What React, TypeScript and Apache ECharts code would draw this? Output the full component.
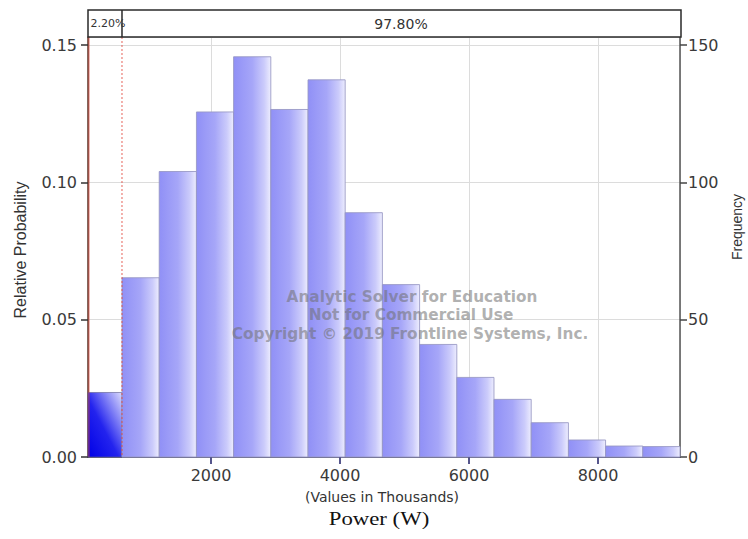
import React, { useEffect, useRef } from "react";
import * as echarts from "echarts";

// ---- data ----
const binEdges = [93, 620, 1197, 1774, 2350, 2927, 3504, 4080, 4657, 5234, 5811, 6387, 6964, 7541, 8117, 8694, 9271];
const relProb = [0.0235, 0.0653, 0.104, 0.1257, 0.1458, 0.1266, 0.1374, 0.089, 0.0628, 0.041, 0.029, 0.021, 0.0125, 0.0062, 0.004, 0.0038];
const lowerCutoff = 620;
const regionLabels = ["2.20%", "97.80%"];
const yLeftMax = 0.153;
const yRightMax = 153;
const watermarkLines = [
  "Analytic Solver for Education",
  "Not for Commercial Use",
  "Copyright © 2019 Frontline Systems, Inc.",
];
const axisTitles = {
  left: "Relative Probability",
  right: "Frequency",
  xSub: "(Values in Thousands)",
  x: "Power (W)",
};

const SANS = "DejaVu Sans";

export default function App() {
  const ref = useRef<HTMLDivElement>(null);

  useEffect(() => {
    if (!ref.current) return;
    const chart = echarts.init(ref.current, null, { renderer: "svg" });

    const histData = relProb.map((p, i) => [binEdges[i], binEdges[i + 1], p, i < 1 ? 1 : 0]);

    const lightFill = new echarts.graphic.LinearGradient(0, 0, 1, 0, [
      { offset: 0, color: "#9090f6" },
      { offset: 0.5, color: "#a6a6f8" },
      { offset: 0.82, color: "#cbcbfb" },
      { offset: 1, color: "#ededfe" },
    ]);
    const darkFill = new echarts.graphic.LinearGradient(0, 1, 1, 0, [
      { offset: 0, color: "#0000e6" },
      { offset: 0.45, color: "#2323ee" },
      { offset: 1, color: "#dcdcfd" },
    ]);

    const option: any = {
      animation: false,
      backgroundColor: "#ffffff",
      grid: { left: 88, right: 68, top: 37, bottom: 82, containLabel: false },
      xAxis: {
        type: "value",
        min: binEdges[0],
        max: binEdges[binEdges.length - 1],
        splitNumber: 5,
        axisLine: { show: true, lineStyle: { color: "#3a3a58", width: 1.5 } },
        axisTick: { show: true, length: 7, lineStyle: { color: "#1e1e66", width: 1.5 } },
        axisLabel: {
          showMinLabel: false,
          showMaxLabel: false,
          formatter: (v: number) => String(Math.round(v)),
          color: "#3a3a3a",
          fontSize: 16,
          fontFamily: SANS,
          margin: 10,
        },
        splitLine: { show: true, lineStyle: { color: "#dcdcdc", width: 1 } },
      },
      yAxis: [
        {
          type: "value",
          position: "left",
          min: 0,
          max: yLeftMax,
          interval: 0.05,
          axisLine: { show: true, lineStyle: { color: "#5b3226", width: 1.5 } },
          axisTick: { show: true, length: 7, lineStyle: { color: "#333", width: 1.5 } },
          axisLabel: {
            showMaxLabel: false,
            formatter: (v: number) => v.toFixed(2),
            color: "#3a3a3a",
            fontSize: 16,
            fontFamily: SANS,
            margin: 11,
          },
          splitLine: { show: true, lineStyle: { color: "#dcdcdc", width: 1 } },
        },
        {
          type: "value",
          position: "right",
          min: 0,
          max: yRightMax,
          interval: 50,
          axisLine: { show: true, lineStyle: { color: "#555", width: 1.5 } },
          axisTick: { show: true, length: 7, lineStyle: { color: "#444", width: 1.5 } },
          axisLabel: {
            showMaxLabel: false,
            color: "#3a3a3a",
            fontSize: 16,
            fontFamily: SANS,
            margin: 8,
          },
          splitLine: { show: false },
        },
      ],
      series: [
        {
          type: "custom",
          xAxisIndex: 0,
          yAxisIndex: 0,
          encode: { x: [0, 1], y: 2 },
          data: histData,
          z: 2,
          renderItem: (params: any, api: any) => {
            const tl = api.coord([api.value(0), api.value(2)]);
            const br = api.coord([api.value(1), 0]);
            const dark = api.value(3) === 1;
            return {
              type: "rect",
              shape: { x: tl[0], y: tl[1], width: br[0] - tl[0], height: br[1] - tl[1] },
              style: {
                fill: dark ? darkFill : lightFill,
                stroke: dark ? "rgba(90,90,140,0.6)" : "rgba(150,150,195,0.85)",
                lineWidth: 1,
              },
            };
          },
        },
      ],
    };

    chart.setOption(option);

    const px = (v: number) => chart.convertToPixel({ xAxisIndex: 0 }, v) as number;
    const py = (v: number) => chart.convertToPixel({ yAxisIndex: 0 }, v) as number;
    const xL = px(binEdges[0]);
    const xR = px(binEdges[binEdges.length - 1]);
    const xC = px(lowerCutoff);
    const yT = py(yLeftMax);
    const yB = py(0);
    const bandTop = 10;

    const wmStyle = (text: string) => ({
      text,
      fill: "rgba(110,110,110,0.55)",
      fontSize: 15,
      fontFamily: SANS,
      fontWeight: "bold",
      align: "center",
      verticalAlign: "middle",
    });

    chart.setOption({
      graphic: [
        // header band
        {
          type: "rect",
          shape: { x: xL, y: bandTop, width: xR - xL + 1, height: yT - bandTop },
          style: { fill: "#fff", stroke: "#2a2a2a", lineWidth: 1.5 },
          z: 10,
        },
        {
          type: "line",
          shape: { x1: xC, y1: bandTop, x2: xC, y2: yT },
          style: { stroke: "#2a2a2a", lineWidth: 1.5 },
          z: 11,
        },
        {
          type: "text",
          x: (xL + xC) / 2 + 3,
          y: (bandTop + yT) / 2,
          style: {
            text: regionLabels[0],
            fontSize: 11,
            fontFamily: SANS,
            fill: "#333",
            align: "center",
            verticalAlign: "middle",
          },
          z: 12,
        },
        {
          type: "text",
          x: (xC + xR) / 2,
          y: (bandTop + yT) / 2,
          style: {
            text: regionLabels[1],
            fontSize: 14,
            fontFamily: SANS,
            fill: "#333",
            align: "center",
            verticalAlign: "middle",
          },
          z: 12,
        },
        // cutoff markers
        {
          type: "line",
          shape: { x1: xL + 1, y1: yT, x2: xL + 1, y2: yB },
          style: { stroke: "rgba(220,60,50,0.7)", lineWidth: 1 },
          z: 9,
        },
        {
          type: "line",
          shape: { x1: xC, y1: yT, x2: xC, y2: yB },
          style: { stroke: "rgba(225,70,60,0.85)", lineWidth: 1, lineDash: [2, 2] },
          z: 9,
        },
        // watermark
        { type: "text", x: 412, y: 297, scaleX: 1.02, style: wmStyle(watermarkLines[0]), z: 20 },
        { type: "text", x: 411, y: 315, scaleX: 1.02, style: wmStyle(watermarkLines[1]), z: 20 },
        { type: "text", x: 410, y: 334, scaleX: 1.02, style: wmStyle(watermarkLines[2]), z: 20 },
        // axis titles
        {
          type: "text",
          x: 20,
          y: 250,
          rotation: Math.PI / 2,
          style: {
            text: axisTitles.left,
            fontSize: 16,
            fontFamily: "Liberation Sans",
            fill: "#333",
            align: "center",
            verticalAlign: "middle",
          },
        },
        {
          type: "text",
          x: 737,
          y: 227,
          rotation: Math.PI / 2,
          style: {
            text: axisTitles.right,
            fontSize: 14,
            fontFamily: "Liberation Sans",
            fill: "#333",
            align: "center",
            verticalAlign: "middle",
          },
        },
        {
          type: "text",
          x: 382,
          y: 497,
          style: {
            text: axisTitles.xSub,
            fontSize: 14,
            fontFamily: SANS,
            fill: "#333",
            align: "center",
            verticalAlign: "middle",
          },
        },
        {
          type: "text",
          x: 379,
          y: 519,
          scaleX: 1.2,
          style: {
            text: axisTitles.x,
            fontSize: 19,
            fontFamily: "Liberation Serif",
            fill: "#111",
            align: "center",
            verticalAlign: "middle",
          },
        },
      ],
    });

    return () => chart.dispose();
  }, []);

  return (
    <div
      ref={ref}
      style={{ position: "absolute", left: 0, top: 0, width: 748, height: 539, background: "#fff" }}
    />
  );
}
